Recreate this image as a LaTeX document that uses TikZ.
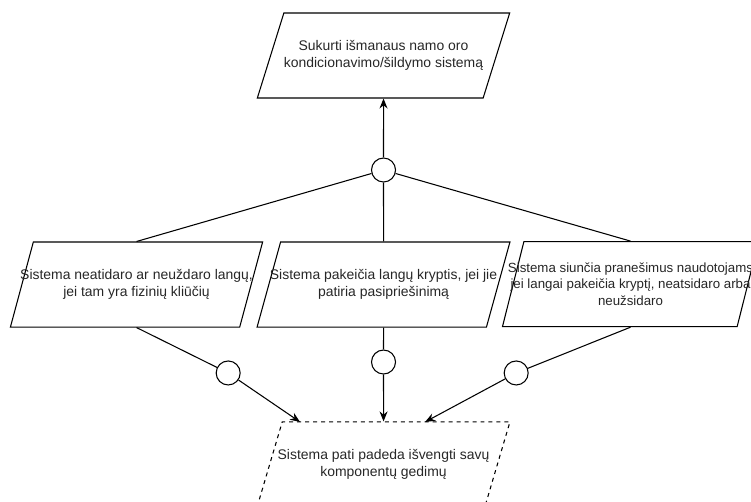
\documentclass[tikz,border=0pt]{standalone}
\usepackage{fontspec}
\setmainfont{Liberation Sans}
\usetikzlibrary{shapes.geometric, arrows.meta}
\tikzstyle{goalBox} = [trapezium, trapezium left angle=75, trapezium right angle=105, trapezium stretches, minimum width=6.69cm, minimum height=2.249cm, inner xsep=-12pt, inner ysep=20pt, text centered, align=center, draw=black, text=black!85, font=\fontsize{10.5}{12.75}\selectfont]
\tikzstyle{dashedBox} = [goalBox, dash pattern=on 3pt off 3pt]
\tikzstyle{joint} = [circle, minimum size=0.635cm, inner sep=0pt, draw=black, fill=white]
\tikzstyle{arrow} = [->, >={Stealth[length=7.5pt, width=6pt]}]

\begin{document}
\begin{tikzpicture}[node distance=3.03cm, line width=0.8pt]
\useasboundingbox (0,0) rectangle (19.87,-13.28);

\node (goal) [goalBox] at (10.147,-1.468) {Sukurti išmanaus namo oro\\kondicionavimo/šildymo sistemą};
\node (topJoint) [joint, below of=goal] {};

\node (pushBack) [goalBox, below of=topJoint] {Sistema pakeičia langų kryptis, jei jie\\patiria pasipriešinimą};
\node (blocked) [goalBox, left of=pushBack, xshift=-3.505cm] {Sistema neatidaro ar neuždaro langų,\\jei tam yra fizinių kliūčių};
\node (notify) [goalBox, inner ysep=14pt, font=\fontsize{10}{12.4}\selectfont, right of=pushBack, xshift=3.505cm, yshift=.01cm] {Sistema siunčia pranešimus naudotojams\\jei langai pakeičia kryptį, neatsidaro arba\\neužsidaro};

\node (leftJoint) [joint, below of=pushBack, xshift=-4.11cm, yshift=.69cm] {};
\node (midJoint) [joint, below of=pushBack, yshift=.98cm] {};
\node (rightJoint) [joint, below of=pushBack, xshift=3.51cm, yshift=.69cm] {};

\node (safeSelf) [dashedBox, below of=pushBack, yshift=-1.73cm] {Sistema pati padeda išvengti savų\\komponentų gedimų};
\node (leftIn) [coordinate, above of=safeSelf, xshift=-2.21cm, yshift=-1.9055cm] {};
\node (rightIn) [coordinate, above of=safeSelf, xshift=1.1cm, yshift=-1.9055cm] {};

\draw [arrow] (topJoint) -- (goal);
\draw (topJoint) -- (blocked.north);
\draw (topJoint) -- (pushBack);
\draw (topJoint) -- (notify.north);

\draw (blocked.south) -- (leftJoint);
\draw [arrow] (leftJoint) -- (leftIn);
\draw (pushBack) -- (midJoint);
\draw [arrow] (midJoint) -- (safeSelf);
\draw (notify.south) -- (rightJoint);
\draw [arrow] (rightJoint) -- (rightIn);
\end{tikzpicture}
\end{document}
